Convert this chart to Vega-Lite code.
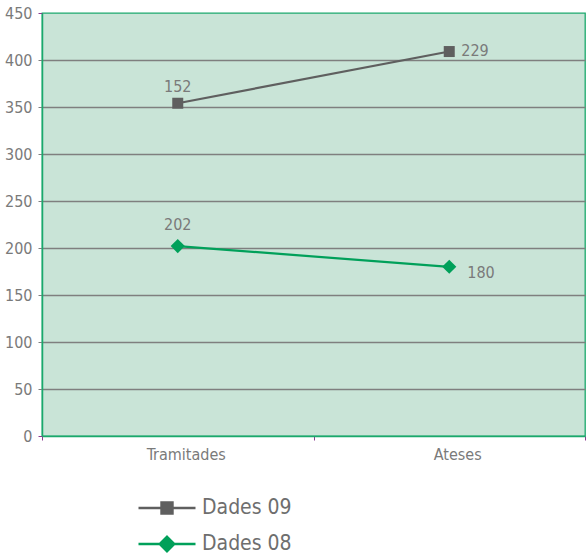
{
  "$schema": "https://vega.github.io/schema/vega-lite/v6.json",
  "width": 543,
  "height": 423,
  "autosize": {"type": "none"},
  "padding": {"left": 42, "top": 13, "right": 1, "bottom": 120},
  "background": "#ffffff",
  "config": {
    "font": "DejaVu Sans Condensed, Roboto",
    "view": {"fill": "#c9e4d7", "stroke": "#1aa86c", "strokeWidth": 1.3},
    "axis": {"labelColor": "#7a7a7a", "labelFontSize": 16, "title": null}
  },
  "data": {
    "values": [
      {"cat": "Tramitades", "serie": "Dades 08", "value": 202},
      {"cat": "Ateses", "serie": "Dades 08", "value": 180},
      {"cat": "Tramitades", "serie": "Dades 09", "value": 152},
      {"cat": "Ateses", "serie": "Dades 09", "value": 229}
    ]
  },
  "transform": [
    {"stack": "value", "groupby": ["cat"], "sort": [{"field": "serie", "order": "ascending"}], "as": ["y0", "y1"]}
  ],
  "encoding": {
    "x": {
      "field": "cat", "type": "nominal", "sort": ["Tramitades", "Ateses"],
      "scale": {"type": "band", "paddingInner": 0, "paddingOuter": 0},
      "axis": {
        "labelAngle": 0, "tickBand": "extent", "tickColor": "#8a3b8f", "tickSize": 4,
        "domainColor": "#1aa86c", "domainWidth": 1.5, "labelPadding": 6, "labelOffset": 8, "grid": false
      }
    },
    "y": {
      "field": "y1", "type": "quantitative",
      "scale": {"domain": [0, 450], "nice": false},
      "axis": {
        "values": [0, 50, 100, 150, 200, 250, 300, 350, 400, 450],
        "grid": true,
        "gridColor": {"condition": {"test": "datum.value === 450 || datum.value === 0", "value": "transparent"}, "value": "#7f7f7f"},
        "gridWidth": 1.3,
        "tickColor": {"condition": {"test": "datum.value === 450 || datum.value === 0", "value": "#8a3b8f"}, "value": "#7f7f7f"},
        "tickSize": 4, "labelPadding": 6,
        "domainColor": "#1aa86c", "domainWidth": 1.5
      }
    }
  },
  "layer": [
    {
      "mark": {"type": "line", "strokeWidth": 2.2},
      "encoding": {
        "color": {
          "field": "serie", "type": "nominal",
          "scale": {"domain": ["Dades 09", "Dades 08"], "range": ["#5f5f5f", "#00a05a"]},
          "legend": {
            "orient": "none", "legendX": 95, "legendY": 485, "title": null,
            "labelFontSize": 21, "labelColor": "#6e6e6e", "labelOffset": 5,
            "symbolSize": 3249, "symbolStrokeWidth": 2.6, "clipHeight": 20, "rowPadding": 15,
            "encode": {
              "symbols": {
                "update": {
                  "shape": {"signal": "datum.value === 'Dades 09' ? 'M-1,0H-0.19M0.19,0H1M-0.19,-0.19H0.19V0.19H-0.19Z' : 'M-1,0H-0.25M0.25,0H1M0,-0.25L0.25,0L0,0.25L-0.25,0Z'"},
                  "fill": {"signal": "datum.value === 'Dades 09' ? '#5f5f5f' : '#00a05a'"},
                  "stroke": {"signal": "datum.value === 'Dades 09' ? '#5f5f5f' : '#00a05a'"},
                  "strokeWidth": {"value": 2.6},
                  "opacity": {"value": 1}
                }
              }
            }
          }
        }
      }
    },
    {
      "transform": [{"filter": "datum.serie === 'Dades 09'"}],
      "mark": {"type": "point", "shape": "square", "size": 121, "filled": true, "opacity": 1, "color": "#5f5f5f"}
    },
    {
      "transform": [{"filter": "datum.serie === 'Dades 08'"}],
      "mark": {"type": "point", "shape": "diamond", "size": 200, "filled": true, "opacity": 1, "color": "#00a05a"}
    },
    {
      "transform": [{"filter": "datum.cat === 'Tramitades' && datum.serie === 'Dades 09'"}],
      "mark": {"type": "text", "fontSize": 16, "color": "#7a7a7a", "dy": -16},
      "encoding": {"text": {"field": "value", "type": "quantitative"}}
    },
    {
      "transform": [{"filter": "datum.cat === 'Tramitades' && datum.serie === 'Dades 08'"}],
      "mark": {"type": "text", "fontSize": 16, "color": "#7a7a7a", "dy": -21},
      "encoding": {"text": {"field": "value", "type": "quantitative"}}
    },
    {
      "transform": [{"filter": "datum.cat === 'Ateses' && datum.serie === 'Dades 09'"}],
      "mark": {"type": "text", "fontSize": 16, "color": "#7a7a7a", "align": "left", "dx": 12, "dy": -1},
      "encoding": {"text": {"field": "value", "type": "quantitative"}}
    },
    {
      "transform": [{"filter": "datum.cat === 'Ateses' && datum.serie === 'Dades 08'"}],
      "mark": {"type": "text", "fontSize": 16, "color": "#7a7a7a", "align": "left", "dx": 18, "dy": 6},
      "encoding": {"text": {"field": "value", "type": "quantitative"}}
    }
  ]
}
